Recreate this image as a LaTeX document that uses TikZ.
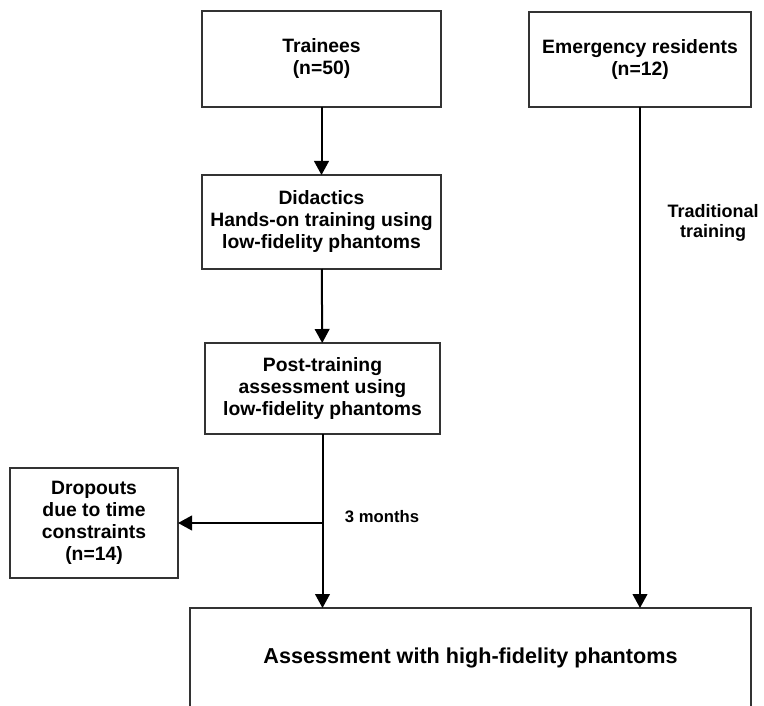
\documentclass[tikz,border=0pt]{standalone}
\usepackage{fontspec}
\setmainfont{Liberation Sans}
\usepackage{tikz}
\usetikzlibrary{arrows.meta}
\usetikzlibrary{shapes}

\begin{document}
\begin{tikzpicture}[x=0.75pt, y=-0.75pt]
    \useasboundingbox (0,0) rectangle (764,706);
    \tikzstyle{box}=[rectangle, draw=black!80, line width=1.2pt, align=center,
    inner sep=0pt, outer sep=0pt, font=\fontsize{14.5}{16.5}\selectfont\bfseries]
    \tikzstyle{arr}=[line width=1.5pt, -{Triangle[width=11pt,length=10.5pt]}]

    \node[box, minimum width = 179.25pt,
    minimum height = 72pt](train) at (321.5,59){Trainees\\(n=50)};
    \node[box, minimum width = 166.5pt,
    minimum height = 71.25pt](emerg) at (640,59.5){Emergency residents\\(n=12)};
    \node[box, minimum width = 179.25pt,
    minimum height = 70.5pt](didac) at (321.5,222){Didactics\\Hands-on training using\\low-fidelity phantoms};
    \node[box, minimum width = 176.25pt,
    minimum height = 68.25pt](post) at (322.5,388.5){Post-training\\assessment using\\low-fidelity phantoms};
    \node[box, minimum width = 126pt,
    minimum height = 82.5pt](drop) at (94,523){Dropouts\\due to time\\constraints\\(n=14)};
    \node[box, minimum width = 420.75pt, minimum height = 75pt,
    font=\fontsize{16.2}{18}\selectfont\bfseries](assess) at (470.5,658){Assessment with high-fidelity phantoms};

    \draw[arr] (train) -- (didac);
    \draw[arr] (didac) -- (post);
    \draw[arr] (post) -- (post.south |- assess.north);
    \draw[arr] (post.south |- drop.east) -- (drop.east);
    \draw[arr] (emerg) -- (emerg.south |- assess.north);

\node[font=\fontsize{12.5}{15}\selectfont\bfseries](months) at (382,517){3 months};
\node[align=center, font=\fontsize{13.5}{15}\selectfont\bfseries](trad) at (713,223){Traditional\\training};
\end{tikzpicture}
\end{document}
